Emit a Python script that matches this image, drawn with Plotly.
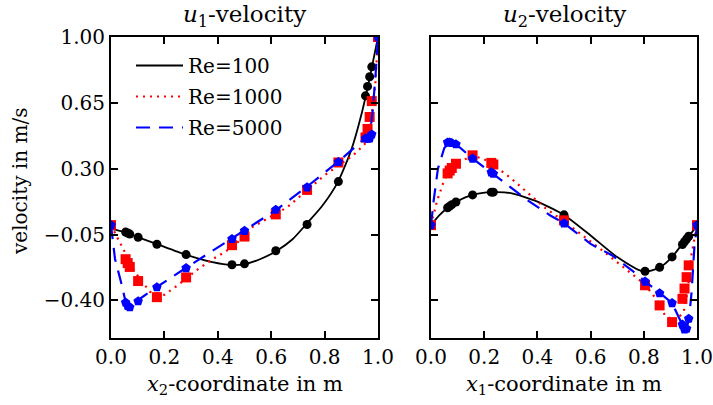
import plotly.graph_objects as go

# ---------------- Data ----------------
# Ghia et al. reference data, u1 along vertical centreline (x2 coordinate)
ghia_x2 = [1.0000, 0.9766, 0.9688, 0.9609, 0.9531, 0.8516, 0.7344, 0.6172, 0.5000,
           0.4531, 0.2813, 0.1719, 0.1016, 0.0703, 0.0625, 0.0547, 0.0000]
ghia_u1_re100 = [1.0, 0.84123, 0.78871, 0.73722, 0.68717, 0.23151, 0.00332, -0.13641,
                 -0.20581, -0.21090, -0.15662, -0.10150, -0.06434, -0.04775, -0.04192, -0.03717, 0.0]
ghia_u1_re1000 = [1.0, 0.65928, 0.57492, 0.51117, 0.46604, 0.33304, 0.18719, 0.05702,
                  -0.06080, -0.10648, -0.27805, -0.38289, -0.29730, -0.22220, -0.20196, -0.18109, 0.0]
ghia_u1_re5000 = [1.0, 0.48223, 0.46120, 0.45992, 0.46036, 0.33556, 0.20087, 0.08183,
                  -0.03039, -0.07404, -0.22855, -0.33050, -0.40435, -0.43643, -0.42901, -0.41165, 0.0]

# Ghia et al. reference data, u2 along horizontal centreline (x1 coordinate)
ghia_x1 = [1.0000, 0.9688, 0.9609, 0.9531, 0.9453, 0.9063, 0.8594, 0.8047, 0.5000,
           0.2344, 0.2266, 0.1563, 0.0938, 0.0781, 0.0703, 0.0625, 0.0000]
ghia_u2_re100 = [0.0, -0.05906, -0.07391, -0.08864, -0.10313, -0.16914, -0.22445, -0.24533,
                 0.05454, 0.17527, 0.17507, 0.16077, 0.12317, 0.10890, 0.10091, 0.09233, 0.0]
ghia_u2_re1000 = [0.0, -0.21388, -0.27669, -0.33714, -0.39188, -0.51550, -0.42665, -0.31966,
                  0.02526, 0.32235, 0.33075, 0.37095, 0.32627, 0.30353, 0.29012, 0.27485, 0.0]
ghia_u2_re5000 = [0.0, -0.49774, -0.55069, -0.55408, -0.52876, -0.41442, -0.36214, -0.30018,
                  0.00945, 0.27280, 0.28066, 0.35368, 0.42951, 0.43648, 0.43983, 0.43974, 0.0]

# Simulated profiles
sim_u1_re100_x = [0.0, 0.05, 0.1, 0.17, 0.28, 0.38, 0.45, 0.5, 0.56, 0.62, 0.68, 0.73,
                  0.79, 0.85, 0.9, 0.94, 0.97, 1.0]
sim_u1_re100_y = [-0.02, -0.037, -0.064, -0.10, -0.157, -0.197, -0.212, -0.207, -0.18, -0.137,
                  -0.075, 0.003, 0.10, 0.23, 0.40, 0.60, 0.79, 1.0]
sim_u1_re1000_x = [0.0, 0.033, 0.045, 0.09, 0.146, 0.2, 0.25, 0.325, 0.375, 0.43, 0.475,
                   0.53, 0.66, 0.8, 0.906, 0.95, 0.97, 0.98, 0.99, 1.0]
sim_u1_re1000_y = [0.0, -0.09, -0.13, -0.25, -0.355, -0.37, -0.32, -0.235, -0.186, -0.14,
                   -0.09, -0.01, 0.095, 0.265, 0.37, 0.43, 0.50, 0.61, 0.75, 1.0]
sim_u1_re5000_x = [0.0, 0.015, 0.037, 0.055, 0.07, 0.1, 0.17, 0.28, 0.45, 0.5, 0.62, 0.73,
                   0.85, 0.95, 0.97, 0.98, 0.99, 1.0]
sim_u1_re5000_y = [0.0, -0.18, -0.30, -0.41, -0.43, -0.40, -0.33, -0.228, -0.074, -0.03,
                   0.082, 0.20, 0.336, 0.46, 0.48, 0.61, 0.78, 1.0]

sim_u2_re100_x = [0.0, 0.03, 0.0625, 0.094, 0.156, 0.23, 0.3, 0.4, 0.5, 0.6, 0.7, 0.8,
                  0.86, 0.906, 0.95, 0.98, 1.0]
sim_u2_re100_y = [0.0, 0.05, 0.092, 0.123, 0.161, 0.175, 0.17, 0.125, 0.054, -0.055, -0.17,
                  -0.248, -0.225, -0.17, -0.09, -0.04, 0.0]
sim_u2_re1000_x = [0.0, 0.023, 0.045, 0.0625, 0.08, 0.1, 0.156, 0.2, 0.234, 0.3, 0.365,
                   0.43, 0.5, 0.567, 0.64, 0.72, 0.8, 0.835, 0.88, 0.92, 0.95, 0.965, 0.98, 1.0]
sim_u2_re1000_y = [0.0, 0.13, 0.22, 0.275, 0.30, 0.33, 0.37, 0.35, 0.32, 0.25, 0.17,
                   0.09, 0.02, -0.05, -0.13, -0.22, -0.31, -0.37, -0.48, -0.51, -0.46,
                   -0.35, -0.15, 0.0]
sim_u2_re5000_x = [0.0, 0.01, 0.026, 0.05, 0.07, 0.094, 0.156, 0.23, 0.29, 0.365, 0.45,
                   0.5, 0.6, 0.68, 0.755, 0.805, 0.86, 0.906, 0.945, 0.96, 0.97, 0.98, 0.99, 1.0]
sim_u2_re5000_y = [0.0, 0.13, 0.30, 0.41, 0.44, 0.43, 0.355, 0.275, 0.21, 0.13, 0.05,
                   0.01, -0.10, -0.16, -0.24, -0.30, -0.36, -0.414, -0.53, -0.55, -0.50,
                   -0.35, -0.12, 0.0]

legend_labels = ["Re=100", "Re=1000", "Re=5000"]
y_ticks = [-0.40, -0.05, 0.30, 0.65, 1.00]
x_ticks = [0.0, 0.2, 0.4, 0.6, 0.8, 1.0]

# ---------------- Styles ----------------
FONT = "DejaVu Serif"
line_styles = [
    dict(color="black", width=1.8, dash="solid", shape="spline", smoothing=0.6),
    dict(color="red", width=2.2, dash="2px,5px"),
    dict(color="blue", width=2.2, dash="14px,9px"),
]
marker_styles = [
    dict(symbol="circle", size=9, color="black"),
    dict(symbol="square", size=10, color="red"),
    dict(symbol="pentagon", size=10, color="blue"),
]

fig = go.Figure()

left_sims = [(sim_u1_re100_x, sim_u1_re100_y), (sim_u1_re1000_x, sim_u1_re1000_y),
             (sim_u1_re5000_x, sim_u1_re5000_y)]
left_ghia = [ghia_u1_re100, ghia_u1_re1000, ghia_u1_re5000]
right_sims = [(sim_u2_re100_x, sim_u2_re100_y), (sim_u2_re1000_x, sim_u2_re1000_y),
              (sim_u2_re5000_x, sim_u2_re5000_y)]
right_ghia = [ghia_u2_re100, ghia_u2_re1000, ghia_u2_re5000]

for i in range(3):
    fig.add_trace(go.Scatter(x=left_sims[i][0], y=left_sims[i][1], mode="lines",
                             line=line_styles[i], name=legend_labels[i],
                             legendgroup=f"g{i}", xaxis="x", yaxis="y"))
    fig.add_trace(go.Scatter(x=ghia_x2, y=left_ghia[i], mode="markers",
                             marker=marker_styles[i], showlegend=False,
                             xaxis="x", yaxis="y"))
for i in range(3):
    fig.add_trace(go.Scatter(x=right_sims[i][0], y=right_sims[i][1], mode="lines",
                             line=line_styles[i], showlegend=False,
                             xaxis="x2", yaxis="y2"))
    fig.add_trace(go.Scatter(x=ghia_x1, y=right_ghia[i], mode="markers",
                             marker=marker_styles[i], showlegend=False,
                             xaxis="x2", yaxis="y2"))

W, H = 713, 405
L1, R1 = 111, 378
L2, R2 = 431, 697
TOP, BOT = 37, 338

axis_common = dict(showline=True, linecolor="black", linewidth=2, mirror="allticks",
                   ticks="inside", ticklen=7, tickwidth=1.5, tickcolor="black",
                   showgrid=False, zeroline=False, automargin=False,
                   tickfont=dict(family=FONT, size=20, color="black"))

fig.update_layout(
    width=W, height=H,
    margin=dict(l=0, r=0, t=0, b=0, autoexpand=False),
    paper_bgcolor="white", plot_bgcolor="white",
    font=dict(family=FONT, color="black"),
    xaxis=dict(domain=[L1 / W, R1 / W], range=[0, 1], tickvals=x_ticks,
               tickformat=".1f", anchor="y", **axis_common),
    yaxis=dict(domain=[1 - BOT / H, 1 - TOP / H], range=[-0.6, 1.0], tickvals=y_ticks,
               tickformat=".2f", anchor="x", **axis_common),
    xaxis2=dict(domain=[L2 / W, R2 / W], range=[0, 1], tickvals=x_ticks,
                tickformat=".1f", anchor="y2", **axis_common),
    yaxis2=dict(domain=[1 - BOT / H, 1 - TOP / H], range=[-0.6, 1.0], tickvals=y_ticks,
                showticklabels=False, anchor="x2", matches="y", **axis_common),
    legend=dict(x=131 / W, y=1 - 46 / H, xanchor="left", yanchor="top",
                bgcolor="rgba(0,0,0,0)", borderwidth=0,
                font=dict(family=FONT, size=20, color="black"),
                tracegroupgap=2, itemwidth=47),
    showlegend=True,
)

annotations = [
    dict(text="<i>u</i><sub>1</sub>-velocity", x=(L1 + R1) / 2 / W, y=1 - 16 / H, size=23),
    dict(text="<i>u</i><sub>2</sub>-velocity", x=(L2 + R2) / 2 / W, y=1 - 16 / H, size=23),
    dict(text="<i>x</i><sub>2</sub>-coordinate in m", x=(L1 + R1) / 2 / W, y=1 - 385 / H, size=21),
    dict(text="<i>x</i><sub>1</sub>-coordinate in m", x=(L2 + R2) / 2 / W, y=1 - 385 / H, size=21),
]
for a in annotations:
    fig.add_annotation(xref="paper", yref="paper", showarrow=False,
                       xanchor="center", yanchor="middle", text=a["text"], x=a["x"], y=a["y"],
                       font=dict(family=FONT, size=a["size"], color="black"))
fig.add_annotation(text="velocity in m/s", xref="paper", yref="paper",
                   x=20 / W, y=1 - 182 / H, textangle=-90, showarrow=False,
                   xanchor="center", yanchor="middle",
                   font=dict(family=FONT, size=20, color="black"))

fig.write_html("out.html")
